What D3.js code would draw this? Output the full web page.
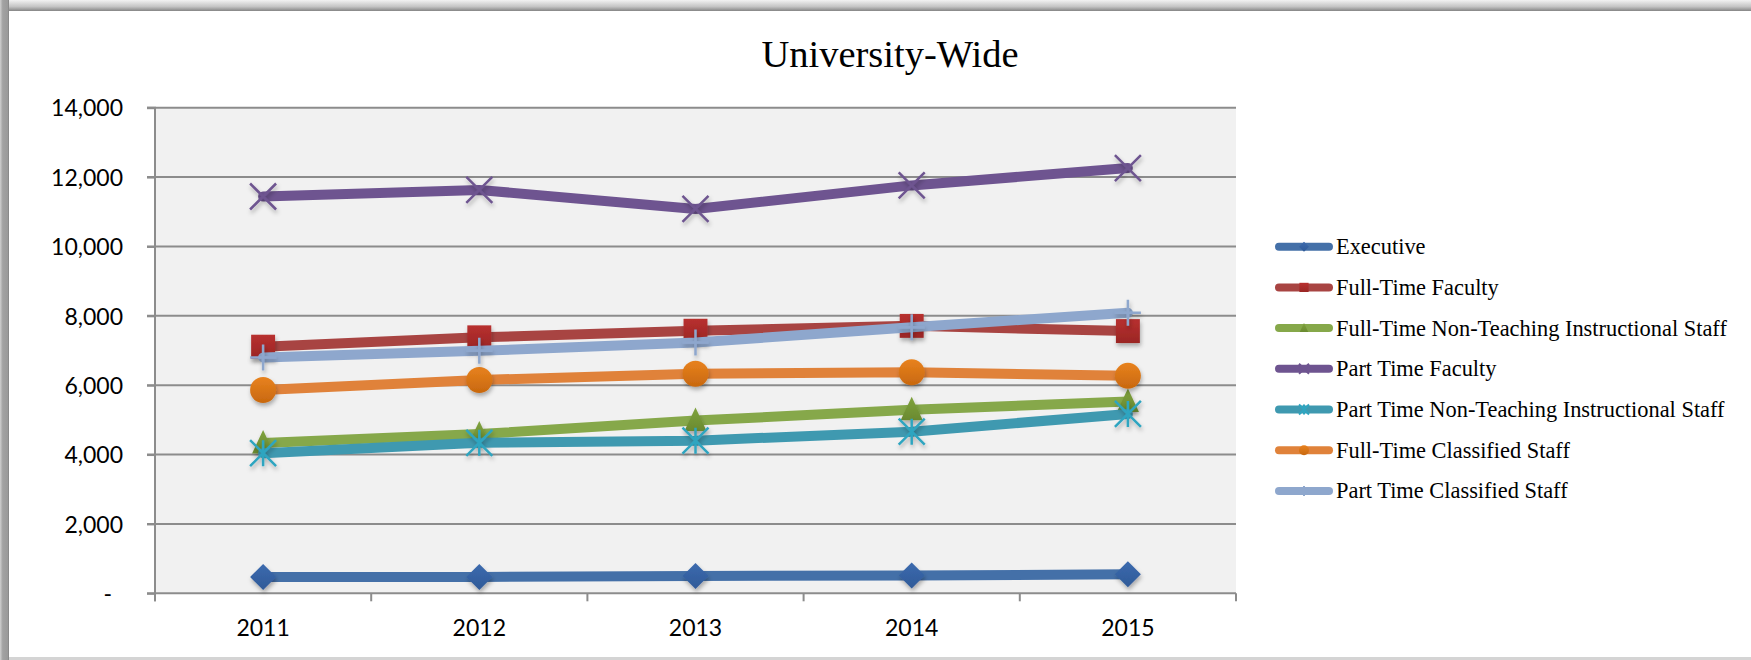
<!DOCTYPE html>
<html>
<head>
<meta charset="utf-8">
<script src="https://cdn.jsdelivr.net/npm/d3@7"></script>
<style>
  html, body { margin: 0; padding: 0; background: #ffffff; }
  svg { display: block; }
</style>
</head>
<body>
<svg id="chart" width="1751" height="660"></svg>
<script>
// ---------- data ----------
const chartTitle = "University-Wide";
const years = ["2011", "2012", "2013", "2014", "2015"];
const seriesNames = [
  "Executive",
  "Full-Time Faculty",
  "Full-Time Non-Teaching Instructional Staff",
  "Part Time Faculty",
  "Part Time Non-Teaching Instructional Staff",
  "Full-Time Classified Staff",
  "Part Time Classified Staff"
];
const executive       = [470, 470, 500, 510, 550];
const ftFaculty       = [7110, 7380, 7570, 7710, 7560];
const ftNonTeaching   = [4330, 4590, 4980, 5290, 5530];
const ptFaculty       = [11440, 11630, 11080, 11760, 12260];
const ptNonTeaching   = [4040, 4340, 4400, 4660, 5170];
const ftClassified    = [5860, 6150, 6330, 6370, 6270];
const ptClassified    = [6800, 6990, 7230, 7670, 8090];
const yTicks = [0, 2000, 4000, 6000, 8000, 10000, 12000, 14000];

const seriesValues = [executive, ftFaculty, ftNonTeaching, ptFaculty, ptNonTeaching, ftClassified, ptClassified];
const lineColors   = ["#4470a8", "#a84442", "#86a84a", "#6e5490", "#3f99b0", "#e0823a", "#8ea7cd"];
const markerFill   = ["#3c6aae", "#b8302f", "#7fa23d", "#6e5490", "#2fa5c0", "#e8821e", "#8ea7cd"];
const markerDark   = ["#2f5a98", "#9a2624", "#6a8a30", "#6e5490", "#2fa5c0", "#c8680f", "#8ea7cd"];
const markerTypes  = ["diamond", "square", "triangle", "x", "star", "circle", "plus"];

// ---------- layout ----------
const W = 1751, H = 660;
const plot = { left: 155, right: 1236, top: 107.7, bottom: 593.3 };

const svg = d3.select("#chart");
const defs = svg.append("defs");

// frame gradients
const gTop = defs.append("linearGradient").attr("id", "gTop").attr("x1", 0).attr("y1", 0).attr("x2", 0).attr("y2", 1);
gTop.append("stop").attr("offset", "0%").attr("stop-color", "#f2f2f2");
gTop.append("stop").attr("offset", "60%").attr("stop-color", "#c4c4c4");
gTop.append("stop").attr("offset", "100%").attr("stop-color", "#858585");
const gLeft = defs.append("linearGradient").attr("id", "gLeft").attr("x1", 0).attr("y1", 0).attr("x2", 1).attr("y2", 0);
gLeft.append("stop").attr("offset", "0%").attr("stop-color", "#d0d0d0");
gLeft.append("stop").attr("offset", "30%").attr("stop-color", "#a2a2a2");
gLeft.append("stop").attr("offset", "85%").attr("stop-color", "#9a9a9a");
gLeft.append("stop").attr("offset", "100%").attr("stop-color", "#808080");

// marker gradients
markerFill.forEach((c, i) => {
  const g = defs.append("linearGradient").attr("id", "mg" + i).attr("x1", 0).attr("y1", 0).attr("x2", 0).attr("y2", 1);
  g.append("stop").attr("offset", "0%").attr("stop-color", c);
  g.append("stop").attr("offset", "100%").attr("stop-color", markerDark[i]);
});

// shadow
const f = defs.append("filter").attr("id", "shadow").attr("x", "-50%").attr("y", "-50%").attr("width", "200%").attr("height", "200%");
f.append("feDropShadow").attr("dx", 1).attr("dy", 3).attr("stdDeviation", 2).attr("flood-color", "#000").attr("flood-opacity", 0.3);

// background frame
svg.append("rect").attr("x", 0).attr("y", 0).attr("width", W).attr("height", H).attr("fill", "#ffffff");
svg.append("rect").attr("x", 0).attr("y", 0).attr("width", W).attr("height", 11).attr("fill", "url(#gTop)");
svg.append("rect").attr("x", 0).attr("y", 0).attr("width", 9).attr("height", H).attr("fill", "url(#gLeft)");
svg.append("rect").attr("x", 9).attr("y", 657).attr("width", W - 9).attr("height", 3).attr("fill", "#d4d4d4");

// ---------- scales ----------
const x = d3.scaleBand().domain(years).range([plot.left, plot.right]).paddingInner(0).paddingOuter(0);
const y = d3.scaleLinear().domain([0, 14000]).range([plot.bottom, plot.top]);
const cx = d => x(d) + x.bandwidth() / 2;

// plot area
svg.append("rect")
  .attr("x", plot.left).attr("y", plot.top)
  .attr("width", plot.right - plot.left).attr("height", plot.bottom - plot.top)
  .attr("fill", "#f1f1f1");

// gridlines
svg.append("g").selectAll("line").data(yTicks.filter(t => t > 0)).join("line")
  .attr("x1", plot.left - 8).attr("x2", plot.right)
  .attr("y1", d => y(d)).attr("y2", d => y(d))
  .attr("stroke", "#8c8c8c").attr("stroke-width", 2);

// y axis
const yAxis = d3.axisLeft(y).tickValues(yTicks).tickSize(8).tickPadding(24)
  .tickFormat(d => d === 0 ? "-" : d3.format(",")(d));
const gy = svg.append("g").attr("transform", `translate(${plot.left},0)`).call(yAxis);
gy.select(".domain").attr("stroke", "#8c8c8c").attr("stroke-width", 2).attr("d", `M-8,${plot.top}H0V${plot.bottom + 8}`);
gy.selectAll(".tick line").attr("stroke", "#8c8c8c").attr("stroke-width", 2);
gy.selectAll(".tick text")
  .attr("font-family", "Lato, 'Open Sans', sans-serif").attr("font-size", 23).attr("fill", "#000")
  .attr("dy", "0.36em")
  .attr("x", d => d === 0 ? -43 : -32);

// x axis
const gx = svg.append("g").attr("transform", `translate(0,${plot.bottom})`);
gx.append("line").attr("x1", plot.left - 8).attr("x2", plot.right).attr("y1", 0).attr("y2", 0)
  .attr("stroke", "#8c8c8c").attr("stroke-width", 2);
const bounds = years.map(d => x(d)).concat([plot.right]);
gx.selectAll("line.tk").data(bounds).join("line").attr("class", "tk")
  .attr("x1", d => d).attr("x2", d => d).attr("y1", 0).attr("y2", 8)
  .attr("stroke", "#8c8c8c").attr("stroke-width", 2);
gx.selectAll("text").data(years).join("text")
  .attr("x", d => cx(d)).attr("y", 43)
  .attr("text-anchor", "middle")
  .attr("font-family", "Lato, 'Open Sans', sans-serif").attr("font-size", 23).attr("fill", "#000")
  .text(d => d);

// title
svg.append("text").attr("x", 890).attr("y", 67).attr("text-anchor", "middle")
  .attr("font-family", "'Liberation Serif', 'DejaVu Serif', serif").attr("font-size", 38.5).attr("fill", "#000")
  .text(chartTitle);

// ---------- marker drawing ----------
function drawMarker(g, type, i, size) {
  const s = size / 2;
  if (type === "diamond") {
    g.append("path").attr("d", `M0,${-s}L${s},0L0,${s}L${-s},0Z`).attr("fill", `url(#mg${i})`);
  } else if (type === "square") {
    const q = s * 0.92;
    g.append("rect").attr("x", -q).attr("y", -q).attr("width", 2 * q).attr("height", 2 * q).attr("fill", `url(#mg${i})`);
  } else if (type === "triangle") {
    g.append("path").attr("d", `M0,${-s}L${s * 0.85},${s * 0.8}L${-s * 0.85},${s * 0.8}Z`).attr("fill", `url(#mg${i})`);
  } else if (type === "circle") {
    g.append("circle").attr("r", s).attr("fill", `url(#mg${i})`);
  } else if (type === "x") {
    g.append("path").attr("d", `M${-s},${-s}L${s},${s}M${s},${-s}L${-s},${s}`)
      .attr("stroke", markerFill[i]).attr("stroke-width", size > 15 ? 2.5 : 2).attr("fill", "none");
  } else if (type === "star") {
    g.append("path").attr("d", `M${-s},${-s}L${s},${s}M${s},${-s}L${-s},${s}M0,${-s}L0,${s}`)
      .attr("stroke", markerFill[i]).attr("stroke-width", size > 15 ? 2.5 : 2).attr("fill", "none");
  } else if (type === "plus") {
    g.append("path").attr("d", `M0,${-s}L0,${s}M${-s},0L${s},0`)
      .attr("stroke", markerFill[i]).attr("stroke-width", size > 15 ? 2.5 : 2).attr("fill", "none");
  }
}

// ---------- series ----------
const line = d3.line().x((d, k) => cx(years[k])).y(d => y(d));
seriesValues.forEach((vals, i) => {
  const g = svg.append("g");
  g.append("path").datum(vals).attr("d", line)
    .attr("fill", "none").attr("stroke", lineColors[i]).attr("stroke-width", 10)
    .attr("stroke-linejoin", "round").attr("stroke-linecap", "round");
  vals.forEach((v, k) => {
    const m = g.append("g").attr("transform", `translate(${cx(years[k])},${y(v)})`).attr("filter", "url(#shadow)");
    drawMarker(m, markerTypes[i], i, 26);
  });
});

// ---------- legend ----------
const legendY0 = 246.7, legendStep = 40.7;
const lg = svg.append("g");
seriesNames.forEach((name, i) => {
  const yy = legendY0 + i * legendStep;
  const it = lg.append("g").attr("transform", `translate(0,${yy})`);
  it.append("line").attr("x1", 1279).attr("x2", 1329).attr("y1", 0).attr("y2", 0)
    .attr("stroke", lineColors[i]).attr("stroke-width", 8).attr("stroke-linecap", "round");
  const m = it.append("g").attr("transform", "translate(1304,0)");
  drawMarker(m, markerTypes[i], i, 10);
  it.append("text").attr("x", 1336).attr("y", 0).attr("dy", "0.33em")
    .attr("font-family", "'Liberation Serif', 'DejaVu Serif', serif").attr("font-size", 22.4).attr("fill", "#000")
    .text(name);
});
</script>
</body>
</html>
